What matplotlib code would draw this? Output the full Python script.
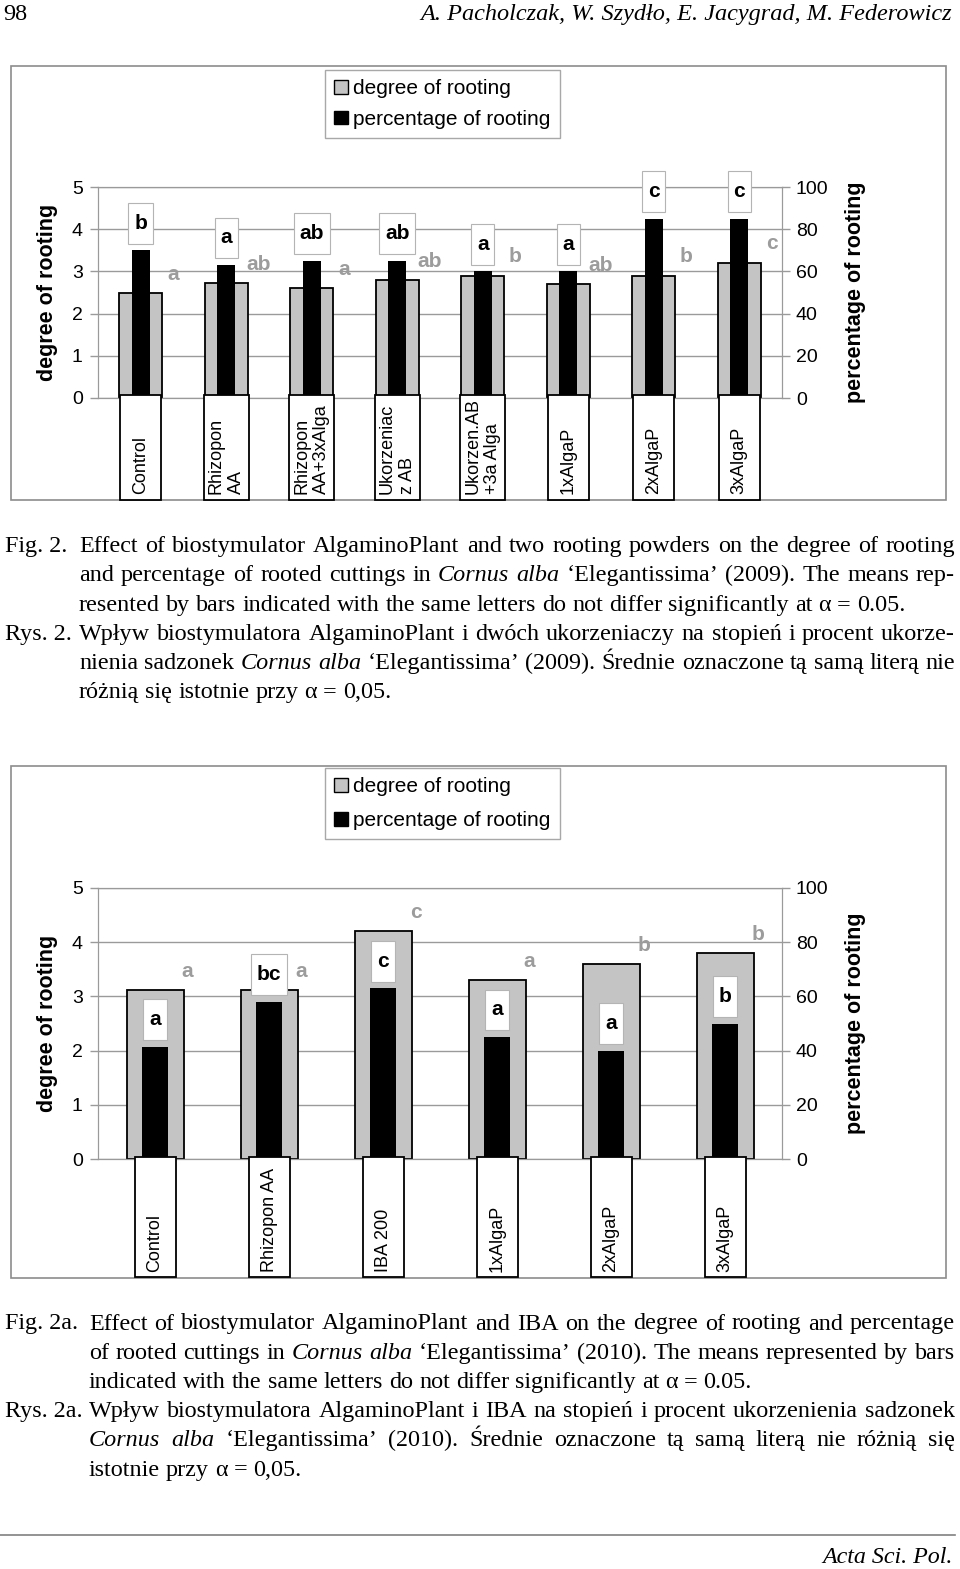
import matplotlib
matplotlib.use('Agg')
import matplotlib.pyplot as plt
from matplotlib.patches import Rectangle, Patch
from matplotlib.path import Path
from matplotlib.lines import Line2D

# ---------------- data ----------------
cats1 = ['Control', 'Rhizopon\nAA', 'Rhizopon\nAA+3xAlga', 'Ukorzeniac\nz AB',
         'Ukorzen.AB\n+3a Alga', '1xAlgaP', '2xAlgaP', '3xAlgaP']
deg1 = [2.48, 2.72, 2.60, 2.80, 2.90, 2.70, 2.90, 3.21]
pct1 = [70, 63, 65, 65, 60, 60, 85, 85]
lets_pct1 = ['b', 'a', 'ab', 'ab', 'a', 'a', 'c', 'c']
lets_deg1 = ['a', 'ab', 'a', 'ab', 'b', 'ab', 'b', 'c']

cats2 = ['Control', 'Rhizopon AA', 'IBA 200', '1xAlgaP', '2xAlgaP', '3xAlgaP']
deg2 = [3.11, 3.11, 4.20, 3.30, 3.60, 3.80]
pct2 = [41.5, 58, 63, 45, 40, 50]
lets_pct2 = ['a', 'bc', 'c', 'a', 'a', 'b']
lets_deg2 = ['a', 'a', 'c', 'a', 'b', 'b']

deg_ticks = [0, 1, 2, 3, 4, 5]
pct_ticks = [0, 20, 40, 60, 80, 100]
legend_labels = ['degree of rooting', 'percentage of rooting']

header_left = '98'
header_right = 'A. Pacholczak, W. Szydło, E. Jacygrad, M. Federowicz'
footer_text = 'Acta Sci. Pol.'

cap1 = [
    ('Fig. 2.', [[('Effect of biostymulator AlgaminoPlant and two rooting powders on the degree of rooting', False)],
                 [('and percentage of rooted cuttings in ', False), ('Cornus alba', True),
                  (' ‘Elegantissima’ (2009). The means rep-', False)],
                 [('resented by bars indicated with the same letters do not differ significantly at α = 0.05.', False)]]),
    ('Rys. 2.', [[('Wpływ biostymulatora AlgaminoPlant i dwóch ukorzeniaczy na stopień i procent ukorze-', False)],
                 [('nienia sadzonek ', False), ('Cornus alba', True),
                  (' ‘Elegantissima’ (2009). Średnie oznaczone tą samą literą nie', False)],
                 [('różnią się istotnie przy α = 0,05.', False)]]),
]
cap2 = [
    ('Fig. 2a.', [[('Effect of biostymulator AlgaminoPlant and IBA on the degree of rooting and percentage', False)],
                  [('of rooted cuttings in ', False), ('Cornus alba', True),
                   (' ‘Elegantissima’ (2010). The means represented by bars', False)],
                  [('indicated with the same letters do not differ significantly at α = 0.05.', False)]]),
    ('Rys. 2a.', [[('Wpływ biostymulatora AlgaminoPlant i IBA na stopień i procent ukorzenienia sadzonek', False)],
                  [('Cornus alba', True),
                   (' ‘Elegantissima’ (2010). Średnie oznaczone tą samą literą nie różnią się', False)],
                  [('istotnie przy α = 0,05.', False)]]),
]

# ---------------- setup ----------------
SANS = ['Liberation Sans', 'DejaVu Sans']
SERIF = ['Liberation Serif', 'DejaVu Serif']
plt.rcParams['font.family'] = SANS
GRAY = '#c4c4c4'
GRID = '#9a9a9a'
LETTER_GRAY = '#9c9c9c'

W, H = 960, 1569
fig = plt.figure(figsize=(W / 100, H / 100), dpi=100)
fig.patch.set_facecolor('white')
renderer = fig.canvas.get_renderer()


def fx(x):
    return x / W


def fy(y):
    return 1 - y / H


def tall_box(x0, y0, width, height, mutation_size):
    px = 0.28 * mutation_size
    py = 0.52 * mutation_size
    xa, ya = x0 - px, y0 - py
    xb, yb = x0 + width + px, y0 + height + py
    return Path([(xa, ya), (xb, ya), (xb, yb), (xa, yb), (xa, ya)], closed=True)


def make_chart(cats, deg, pct, lets_pct, lets_deg, ax_px, frame_px, legend_top,
               box_top, box_bottom, label_base, bw_black, leg_spacing):
    left, top, right, bottom = ax_px
    fl, ft, fr, fb = frame_px
    fig.add_artist(Rectangle((fx(fl), fy(fb)), (fr - fl) / W, (fb - ft) / H,
                             transform=fig.transFigure, fc='none', ec='#8c8c8c', lw=1.2, zorder=0.5))
    ax = fig.add_axes([fx(left), fy(bottom), (right - left) / W, (bottom - top) / H])
    n = len(cats)
    xs = [i + 0.5 for i in range(n)]
    ax.set_xlim(0, n)
    ax.set_ylim(0, 5)
    ax.patch.set_alpha(0)
    ax.bar(xs, deg, width=0.5, color=GRAY, edgecolor='black', linewidth=1.3, zorder=2)
    ax.set_yticks(deg_ticks)
    ax.grid(axis='y', color=GRID, lw=1)
    ax.set_axisbelow(True)
    ax.set_xticks([])
    for s in ax.spines.values():
        s.set_color(GRID)
    ax.tick_params(axis='y', length=6, width=1, color=GRID, labelsize=14, pad=5)

    ax2 = ax.twinx()
    ax2.set_ylim(0, 100)
    ax2.set_yticks(pct_ticks)
    ax2.bar(xs, pct, width=bw_black, color='black', zorder=3)
    for s in ax2.spines.values():
        s.set_color(GRID)
    ax2.tick_params(axis='y', length=6, width=1, color=GRID, labelsize=14, pad=4)

    for x, p, l in zip(xs, pct, lets_pct):
        ax2.annotate(l, xy=(x, p), xytext=(0, 19.5), textcoords='offset points',
                     ha='center', va='center', fontsize=15, fontweight='bold',
                     bbox=dict(boxstyle=tall_box, fc='white', ec='#b4b4b4', lw=0.8), zorder=6)
    for x, d, l in zip(xs, deg, lets_deg):
        ax2.annotate(l, xy=(x, d * 20), xytext=(23.5, 13.5), textcoords='offset points',
                     ha='center', va='center', fontsize=15, fontweight='bold',
                     color=LETTER_GRAY, zorder=6)

    cy = (top + bottom) / 2
    fig.text(fx(48), fy(cy), 'degree of rooting', rotation=90, ha='center', va='center',
             fontsize=15.5, fontweight='bold')
    fig.text(fx(856), fy(cy), 'percentage of rooting', rotation=90, ha='center', va='center',
             fontsize=15.5, fontweight='bold')

    for x, c in zip(xs, cats):
        cx = ax.transData.transform((x, 0))[0]
        t = fig.text(fx(cx), fy(label_base), c, rotation=90, ha='center', va='bottom',
                     multialignment='left', fontsize=13, linespacing=1.22, zorder=4)
        tw = t.get_window_extent(renderer).width
        w = max(41, tw + 8)
        fig.add_artist(Rectangle((fx(cx - w / 2), fy(box_bottom)), w / W, (box_bottom - box_top) / H,
                                 transform=fig.transFigure, fc='white', ec='black', lw=1.3, zorder=2))

    handles = [Patch(fc=GRAY, ec='black', lw=1), Patch(fc='black', ec='black', lw=1)]
    leg = fig.legend(handles=handles, labels=legend_labels, loc='upper left',
                     bbox_to_anchor=(fx(325), fy(legend_top)), bbox_transform=fig.transFigure,
                     borderaxespad=0, fontsize=15, handlelength=0.65, handleheight=0.65,
                     handletextpad=0.25, labelspacing=leg_spacing, borderpad=0.45, fancybox=False,
                     edgecolor='#a8a8a8', framealpha=1)
    leg.get_frame().set_linewidth(1)
    return ax, ax2


make_chart(cats1, deg1, pct1, lets_pct1, lets_deg1, (98, 187, 782, 398), (11, 66, 946, 500), 70,
           395, 500, 494, 0.21, 0.55)
make_chart(cats2, deg2, pct2, lets_pct2, lets_deg2, (98, 888, 782, 1159), (11, 766, 946, 1278), 768,
           1157, 1277, 1272, 0.225, 0.7)


# ---------------- text ----------------
def words_of(segs):
    out = []
    for s, it in segs:
        for w in s.split():
            out.append((w, it))
    return out


def measure(words, size):
    ws = []
    for w, it in words:
        t = fig.text(0, 0, w, fontsize=size, family=SERIF, style='italic' if it else 'normal')
        ws.append(t.get_window_extent(renderer).width)
        t.remove()
    return ws


def place_line(words, x0, x1, yb, justify, size):
    widths = measure(words, size)
    em = size * 100 / 72
    space = em * 0.25
    if justify and len(words) > 1:
        gap = max((x1 - x0 - sum(widths)) / (len(words) - 1), em * 0.12)
    else:
        gap = space
    x = x0
    for (w, it), wd in zip(words, widths):
        fig.text(fx(x), fy(yb), w, fontsize=size, family=SERIF,
                 style='italic' if it else 'normal', ha='left', va='baseline')
        x += wd + gap


def caption(cap, body_x, first_base, step, size):
    yb = first_base
    for label, lines in cap:
        fig.text(fx(5), fy(yb), label, fontsize=size, family=SERIF, ha='left', va='baseline')
        for k, segs in enumerate(lines):
            place_line(words_of(segs), body_x, 955, yb, k < len(lines) - 1, size)
            yb += step


CAP_SIZE = 17.35
caption(cap1, 79, 552, 29.3, CAP_SIZE)
caption(cap2, 89, 1329.5, 29.2, CAP_SIZE)

fig.text(fx(3), fy(20), header_left, fontsize=17.5, family=SERIF, ha='left', va='baseline')
fig.text(fx(952), fy(20), header_right, fontsize=17.5, family=SERIF, style='italic',
         ha='right', va='baseline')

fig.add_artist(Line2D([0, fx(955)], [fy(1535), fy(1535)], transform=fig.transFigure,
                      color='#808080', lw=1.2))
fig.text(fx(953), fy(1563), footer_text, fontsize=17.3, family=SERIF, style='italic',
         ha='right', va='baseline')

fig.savefig('out.png', dpi=100, facecolor='white')
